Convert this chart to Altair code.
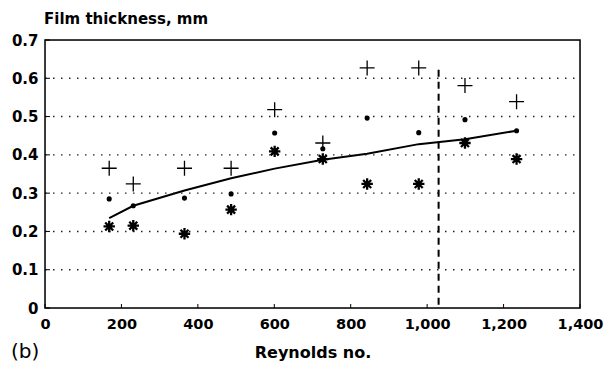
import altair as alt
import pandas as pd

reynolds = [168, 231, 365, 487, 601, 727, 843, 978, 1099, 1234]
plus_vals = [0.365, 0.324, 0.365, 0.365, 0.518, 0.431, 0.627, 0.627, 0.581, 0.539]
dot_vals = [0.285, 0.267, 0.287, 0.298, 0.457, 0.416, 0.496, 0.458, 0.492, 0.463]
star_vals = [0.213, 0.215, 0.194, 0.257, 0.409, 0.389, 0.324, 0.324, 0.431, 0.389]
fit_vals = [0.235, 0.267, 0.307, 0.339, 0.364, 0.387, 0.403, 0.428, 0.441, 0.463]
limit_re = [1030]
limit_top = [0.622]
x_ticks = [0, 200, 400, 600, 800, 1000, 1200, 1400]
y_ticks = [0, 0.1, 0.2, 0.3, 0.4, 0.5, 0.6, 0.7]
grid_vals = [0.1, 0.2, 0.3, 0.4, 0.5, 0.6]

W, H = 535, 268
FONT = "DejaVu Sans"

df = pd.DataFrame({"re": reynolds, "plus": plus_vals, "dot": dot_vals,
                   "star": star_vals, "fit": fit_vals})
vdf = pd.DataFrame({"re": limit_re, "top": limit_top})
xt = pd.DataFrame({"v": x_ticks})
yt = pd.DataFrame({"v": y_ticks})
gd = pd.DataFrame({"v": grid_vals})

xs = alt.Scale(domain=[0, 1400], nice=False, zero=True)
ys = alt.Scale(domain=[0, 0.7], nice=False, zero=True)

xaxis = alt.Axis(values=x_ticks, format=",d", domain=False, ticks=False, grid=False,
                 labelFont=FONT, labelFontWeight="bold", labelFontSize=14.5, labelColor="black",
                 labelPadding=9, labelOverlap=False, title="Reynolds no.", titleFont=FONT,
                 titleFontWeight="bold", titleFontSize=16, titleColor="black", titlePadding=14,
                 labelFlush=False)
yaxis = alt.Axis(values=y_ticks, domain=False, ticks=False, grid=False,
                 labelExpr="datum.value == 0 ? '0' : format(datum.value, '.1f')",
                 labelFont=FONT, labelFontWeight="bold", labelFontSize=15, labelColor="black",
                 labelPadding=7, labelOverlap=False, title=None)


def X(f):
    return alt.X(f, scale=xs, axis=xaxis, title="Reynolds no.")


def Y(f):
    return alt.Y(f, scale=ys, axis=yaxis, title=None)


base = alt.Chart(df)

line = base.mark_line(color="black", strokeWidth=2).encode(x=X("re:Q"), y=Y("fit:Q"))

grid = alt.Chart(gd).mark_rule(color="#222222", strokeWidth=1.4, strokeDash=[1.5, 6.5]).encode(
    y=Y("v:Q"), x=alt.value(0), x2=alt.value(W))

plus = base.mark_point(shape="M-1,0L1,0M0,-1L0,1", size=225, filled=False,
                       color="black", strokeWidth=1.3, opacity=1).encode(
    x=X("re:Q"), y=Y("plus:Q"))

star = base.mark_point(shape="M-1,0L1,0M0,-1L0,1M-0.7,-0.7L0.7,0.7M-0.7,0.7L0.7,-0.7",
                       size=130, filled=False, color="black", strokeWidth=2.3, opacity=1).encode(
    x=X("re:Q"), y=Y("star:Q"))

dots = base.mark_point(shape="circle", size=26, filled=True, color="black", opacity=1).encode(
    x=X("re:Q"), y=Y("dot:Q"))

vline = alt.Chart(vdf).mark_rule(color="black", strokeWidth=2, strokeDash=[7, 5]).encode(
    x=X("re:Q"), y=Y("top:Q"), y2=alt.datum(0))

xtick = alt.Chart(xt).mark_rule(color="black", strokeWidth=1).encode(
    x=X("v:Q"), y=alt.value(H), y2=alt.value(H - 4))
ytick = alt.Chart(yt).mark_rule(color="black", strokeWidth=1).encode(
    y=Y("v:Q"), x=alt.value(0), x2=alt.value(5))

frame = alt.Chart(pd.DataFrame({"t": [0]})).mark_rect(
    fill=None, fillOpacity=0, stroke="black", strokeWidth=1.5).encode(
    x=alt.value(0), x2=alt.value(W), y=alt.value(0), y2=alt.value(H))

ytitle = alt.Chart(pd.DataFrame({"t": ["Film thickness, mm"]})).mark_text(
    font=FONT, fontWeight="bold", fontSize=15, align="left", baseline="alphabetic",
    color="black").encode(text="t:N", x=alt.value(-1), y=alt.value(-16))

panel = alt.Chart(pd.DataFrame({"t": ["(b)"]})).mark_text(
    font=FONT, fontSize=20, align="left", baseline="alphabetic",
    color="black").encode(text="t:N", x=alt.value(-34), y=alt.value(318))

chart = alt.layer(line, grid, vline, xtick, ytick, plus, star, dots, frame, ytitle, panel).properties(
    width=W, height=H,
    autosize=alt.AutoSizeParams(type="none"),
    padding={"left": 37, "top": 32, "right": 23, "bottom": 54},
).configure_view(stroke=None).configure(background="white")

chart.save("out.html", embed_options={"renderer": "svg", "actions": False})
